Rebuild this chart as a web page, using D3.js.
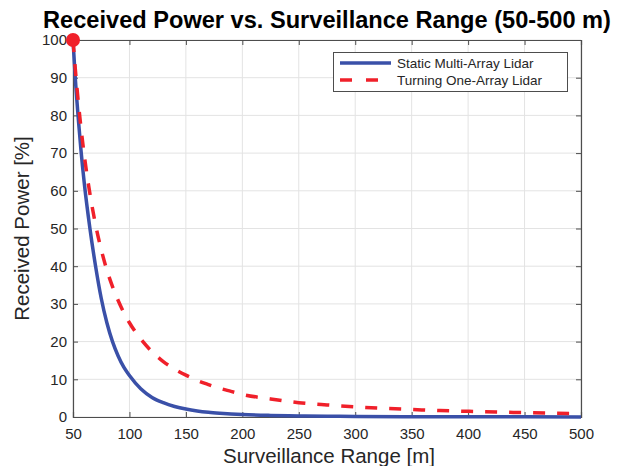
<!DOCTYPE html>
<html><head><meta charset="utf-8">
<script src="https://cdn.jsdelivr.net/npm/d3@7"></script>
<style>body{margin:0;background:#fff}svg{display:block}text{font-family:"Liberation Sans",Arial,sans-serif}</style>
</head><body><svg id="c" width="618" height="466"></svg>
<script>
const rangeStatic = [50,52,55,57,60,65,70,75,80,85,90,95,100,110,120,130,140,150,160,170,180,190,200,225,250,275,300,350,400,450,500];
const powerStatic = [100,90,78,71,62,50,40,31.5,25,20,16.2,13.2,11,7.5,5.2,3.8,2.8,2.1,1.6,1.25,1.0,0.8,0.65,0.42,0.28,0.2,0.14,0.08,0.05,0.035,0.025];
const rangeTurning = [50,52,55,57,60,65,70,75,80,85,90,95,100,110,120,130,140,150,160,170,180,190,200,225,250,275,300,325,350,375,400,425,450,475,500];
const powerTurning = [100,92.5,82.6,76.9,69.4,59.2,51,44.4,39,34.6,30.9,27.7,25,20.7,17.3,14.7,12.7,11.1,9.7,8.6,7.6,6.8,6.0,4.8,3.8,3.2,2.7,2.3,2.0,1.7,1.5,1.3,1.15,1.0,0.9];
const xTicks = [50,100,150,200,250,300,350,400,450,500];
const yTicks = [0,10,20,30,40,50,60,70,80,90,100];
const seriesNames = ["Static Multi-Array Lidar","Turning One-Array Lidar"];
const titleText = "Received Power vs. Surveillance Range (50-500 m)";
const xLabel = "Surveillance Range [m]";
const yLabel = "Received Power [%]";

const svg = d3.select("#c");
const L=73, R=581, T=40, B=417;
const x = d3.scaleLinear().domain([50,500]).range([L,R]);
const y = d3.scaleLinear().domain([0,100]).range([B,T]);
const axCol="#4d4d4d", txtCol="#262626";

// grid
const g = svg.append("g");
g.selectAll(".gx").data(xTicks).join("line").attr("x1",d=>x(d)).attr("x2",d=>x(d)).attr("y1",T).attr("y2",B).attr("stroke","#e3e3e3").attr("stroke-width",1);
g.selectAll(".gy").data(yTicks).join("line").attr("y1",d=>y(d)).attr("y2",d=>y(d)).attr("x1",L).attr("x2",R).attr("stroke","#e3e3e3").attr("stroke-width",1);

// axes
const xa = svg.append("g").attr("transform",`translate(0,${B})`).call(d3.axisBottom(x).tickValues(xTicks).tickSize(-5).tickPadding(11).tickFormat(d3.format("d")));
const xt = svg.append("g").attr("transform",`translate(0,${T})`).call(d3.axisTop(x).tickValues(xTicks).tickSize(-5).tickFormat(""));
const ya = svg.append("g").attr("transform",`translate(${L},0)`).call(d3.axisLeft(y).tickValues(yTicks).tickSize(-5).tickPadding(6).tickFormat(d3.format("d")));
const yr = svg.append("g").attr("transform",`translate(${R},0)`).call(d3.axisRight(y).tickValues(yTicks).tickSize(-5).tickFormat(""));
[xa,xt,ya,yr].forEach(a=>{
  a.select(".domain").attr("stroke",axCol).attr("stroke-width",1.2);
  a.selectAll(".tick line").attr("stroke",axCol);
  a.selectAll("text").attr("fill",txtCol).style("font-size","15px").style("font-family","'Liberation Sans',Arial,sans-serif");
});

// lines
const line = d3.line().x(d=>x(d[0])).y(d=>y(d[1])).curve(d3.curveMonotoneX);
svg.append("path").datum(rangeStatic.map((r,i)=>[r,powerStatic[i]])).attr("d",line).attr("fill","none").attr("stroke","#3a50a8").attr("stroke-width",3.5);
svg.append("path").datum(rangeTurning.map((r,i)=>[r,powerTurning[i]])).attr("d",line).attr("fill","none").attr("stroke","#f0202a").attr("stroke-width",3.5).attr("stroke-dasharray","12,12");
svg.append("circle").attr("cx",x(rangeTurning[0])).attr("cy",y(powerTurning[0])).attr("r",7).attr("fill","#f0202a");

// legend
const lg = svg.append("g");
lg.append("rect").attr("x",333.5).attr("y",52.5).attr("width",234).attr("height",39).attr("fill","#fff").attr("stroke",axCol).attr("stroke-width",1);
lg.append("line").attr("x1",340).attr("x2",391).attr("y1",63).attr("y2",63).attr("stroke","#3a50a8").attr("stroke-width",3.5);
lg.append("line").attr("x1",340).attr("x2",391).attr("y1",80).attr("y2",80).attr("stroke","#f0202a").attr("stroke-width",3.5).attr("stroke-dasharray","12,14");
lg.selectAll("text.lt").data(seriesNames).join("text").attr("x",397).attr("y",(d,i)=>63+i*17).attr("dy","0.35em").attr("fill",txtCol).style("font-size","13.5px").text(d=>d);

// titles
svg.append("text").attr("x",(L+R)/2).attr("y",28).attr("text-anchor","middle").attr("fill","#000").style("font-size","23.6px").style("font-weight","bold").text(titleText);
svg.append("text").attr("x",(L+R)/2+2).attr("y",463).attr("text-anchor","middle").attr("fill",txtCol).style("font-size","20.5px").text(xLabel);
svg.append("text").attr("transform",`translate(29,${(T+B)/2}) rotate(-90)`).attr("text-anchor","middle").attr("fill",txtCol).style("font-size","20.5px").text(yLabel);
</script></body></html>
